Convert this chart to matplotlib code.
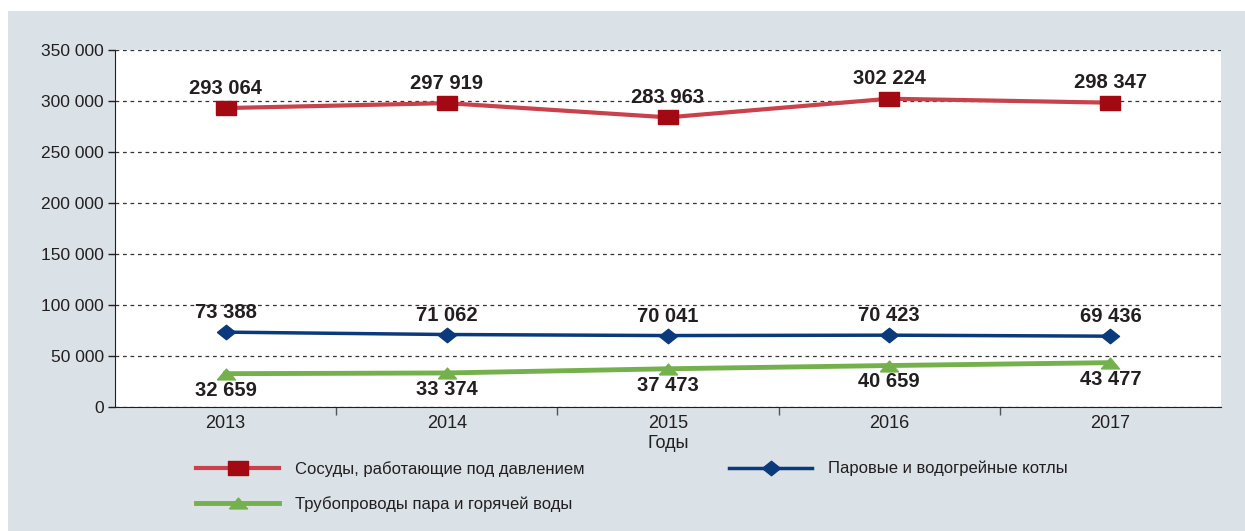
import matplotlib.pyplot as plt
import matplotlib.patches as mpatches
from matplotlib.ticker import FuncFormatter, FixedLocator

years = ["2013", "2014", "2015", "2016", "2017"]
vessels = [293064, 297919, 283963, 302224, 298347]
boilers = [73388, 71062, 70041, 70423, 69436]
pipes = [32659, 33374, 37473, 40659, 43477]

names = ["Сосуды, работающие под давлением",
         "Паровые и водогрейные котлы",
         "Трубопроводы пара и горячей воды"]

plt.rcParams['font.family'] = ['Liberation Sans', 'DejaVu Sans']

def fmt(v):
    return f"{v:,.0f}".replace(",", " ")

fig = plt.figure(figsize=(12.45, 5.31), dpi=100)
fig.patches.append(mpatches.Rectangle((8 / 1245, 0), 1, 1 - 11 / 531, transform=fig.transFigure,
                                      facecolor="#dae1e7", edgecolor="none", zorder=-10))
ax = fig.add_axes([115 / 1245, 124 / 531, 1106 / 1245, 357 / 531])
ax.set_facecolor("white")

rect = [(-1, -0.65), (1, -0.65), (1, 0.65), (-1, 0.65), (-1, -0.65)]
diamond = [(-1, 0), (0, 0.8), (1, 0), (0, -0.8), (-1, 0)]
tri = [(-1, -0.6), (0, 0.6), (1, -0.6), (-1, -0.6)]

x = list(range(len(years)))
l1, = ax.plot(x, vessels, color="#c8414b", lw=3, marker=rect, ms=14.5,
              mfc="#a30912", mec="#a30912", label=names[0], zorder=3)
l2, = ax.plot(x, boilers, color="#0b3a7c", lw=2.5, marker=diamond, ms=13,
              mfc="#0b3a7c", mec="#0b3a7c", label=names[1], zorder=3)
l3, = ax.plot(x, pipes, color="#74b04c", lw=3.5, marker=tri, ms=13,
              mfc="#74b04c", mec="#74b04c", label=names[2], zorder=3)

lab = dict(ha="center", fontsize=14.5, fontweight="bold", color="#231f20")
for i in x:
    ax.annotate(fmt(vessels[i]), (i, vessels[i]), xytext=(0, 7.5), textcoords="offset points", va="bottom", **lab)
    ax.annotate(fmt(boilers[i]), (i, boilers[i]), xytext=(0, 7), textcoords="offset points", va="bottom", **lab)
    ax.annotate(fmt(pipes[i]), (i, pipes[i]), xytext=(0, -5), textcoords="offset points", va="top", **lab)

ax.set_xlim(-0.5, len(years) - 0.5)
ax.set_ylim(0, 350000)
ax.set_yticks(range(0, 350001, 50000))
ax.yaxis.set_major_formatter(FuncFormatter(lambda v, p: fmt(v)))
ax.set_xticks(x)
ax.set_xticklabels(years)
ax.xaxis.set_minor_locator(FixedLocator([i + 0.5 for i in x[:-1]]))
ax.tick_params(axis="x", which="major", length=0, pad=6, labelsize=13, colors="#231f20")
ax.tick_params(axis="x", which="minor", length=6, width=1, color="#555555")
ax.tick_params(axis="y", length=5, width=1, labelsize=12.5, colors="#231f20", pad=3)
ax.yaxis.grid(True, ls=(0, (3, 3)), color="#333333", lw=0.9)
ax.set_axisbelow(True)
for s in ["top", "right"]:
    ax.spines[s].set_visible(False)
ax.spines["left"].set_color("#231f20")
ax.spines["bottom"].set_color("#231f20")
ax.set_xlabel("Годы", fontsize=13, color="#231f20", labelpad=2)

legkw = dict(loc="upper left", frameon=False, fontsize=12, handlelength=5.0,
             numpoints=1, labelspacing=1.15, handletextpad=0.95, borderpad=0, borderaxespad=0)
leg1 = fig.legend([l1, l3], [names[0], names[2]], bbox_to_anchor=(196 / 1245, 1 - 461 / 531), **legkw)
leg2 = fig.legend([l2], [names[1]], bbox_to_anchor=(729 / 1245, 1 - 461 / 531), **legkw)
for leg in (leg1, leg2):
    for t in leg.get_texts():
        t.set_color("#231f20")

fig.savefig("out.png", dpi=100)
